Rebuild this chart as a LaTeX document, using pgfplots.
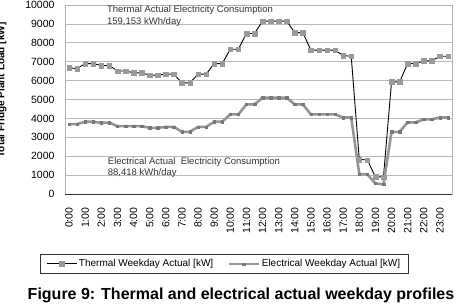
\documentclass[border=0pt]{standalone}
\usepackage{pgfplots}
\pgfplotsset{compat=1.18}
\usepackage{fontspec}
\setmainfont{Liberation Sans}
\definecolor{mk}{HTML}{9A9A9A}
\definecolor{el}{HTML}{959595}
\begin{document}
\begin{tikzpicture}
\path[use as bounding box] (-65pt,-110pt) rectangle (391pt,194pt);
\begin{axis}[
  at={(0pt,0pt)}, anchor=south west,
  scale only axis, width=387pt, height=189pt,
  xmin=-0.5, xmax=47.5, ymin=0, ymax=10000,
  ytick={0,1000,...,10000},
  xtick={0,2,...,46},
  xticklabels={0:00,1:00,2:00,3:00,4:00,5:00,6:00,7:00,8:00,9:00,10:00,11:00,12:00,13:00,14:00,15:00,16:00,17:00,18:00,19:00,20:00,21:00,22:00,23:00},
  scaled y ticks=false,
  /pgf/number format/.cd, 1000 sep={}, assume math mode=true,
  /pgfplots/.cd,
  major tick length=0pt,
  ymajorgrids, grid style={gray!55, line width=0.6pt},
  axis line style={gray!60},
  yticklabel style={font=\fontsize{10.5}{12}\selectfont, xshift=-7pt},
  xticklabel style={font=\fontsize{10.5}{12}\selectfont, yshift=-10pt, rotate=90, anchor=east},
  ylabel={\bfseries Total Fridge Plant Load [kW]},
  ylabel style={font=\fontsize{10}{12}\selectfont, at={(axis description cs:-0.163,0.55)}, anchor=center, rotate=0},
  legend columns=2,
  legend style={at={(axis description cs:0.411,-0.370)}, anchor=center, draw=black!80, line width=0.6pt,
    font=\fontsize{10}{12}\selectfont, inner xsep=6pt, inner ysep=3pt,
    /tikz/every even column/.append style={column sep=12pt}},
  legend image code/.code={\draw[#1] (0pt,0pt) -- (30pt,0pt); \draw[#1, only marks] plot coordinates {(15pt,0pt)};},
  clip=false,
]
\addplot[black, line width=0.9pt, mark=square*, mark size=2.3pt, mark options={mk, draw=mk, line width=0.3pt}] coordinates {
(0,6670)(1,6640)(2,6900)(3,6900)(4,6800)(5,6800)(6,6510)(7,6510)(8,6410)(9,6410)
(10,6290)(11,6290)(12,6340)(13,6340)(14,5880)(15,5880)(16,6340)(17,6340)(18,6900)(19,6900)
(20,7660)(21,7660)(22,8490)(23,8490)(24,9150)(25,9150)(26,9150)(27,9150)(28,8540)(29,8540)
(30,7610)(31,7610)(32,7610)(33,7610)(34,7320)(35,7290)(36,1830)(37,1800)(38,910)(39,900)
(40,5930)(41,5930)(42,6900)(43,6900)(44,7040)(45,7040)(46,7290)(47,7290)};
\addlegendentry{Thermal Weekday Actual  [kW]}
\addplot[el, line width=2.6pt, mark=square*, mark size=1.2pt, mark options={el!80!black, line width=0.3pt}] coordinates {
(0,3700)(1,3700)(2,3820)(3,3820)(4,3770)(5,3770)(6,3590)(7,3590)(8,3590)(9,3590)
(10,3500)(11,3500)(12,3550)(13,3550)(14,3290)(15,3290)(16,3550)(17,3550)(18,3820)(19,3820)
(20,4210)(21,4210)(22,4740)(23,4740)(24,5090)(25,5090)(26,5090)(27,5090)(28,4740)(29,4740)
(30,4210)(31,4210)(32,4210)(33,4210)(34,4050)(35,4050)(36,1060)(37,1040)(38,560)(39,510)
(40,3290)(41,3290)(42,3790)(43,3790)(44,3950)(45,3950)(46,4050)(47,4050)};
\addlegendentry{Electrical Weekday Actual [kW]}
\draw[black!80, line width=0.7pt] (rel axis cs:0,0) -- (rel axis cs:1,0);
\node[anchor=west, inner sep=0pt, font=\fontsize{9.5}{11}\selectfont, text=black!80] at (axis cs:4.7,9720) {Thermal Actual Electricity Consumption};
\node[anchor=west, inner sep=0pt, font=\fontsize{9.5}{11}\selectfont, text=black!80] at (axis cs:4.7,9086) {159,153 kWh/day};
\node[anchor=west, inner sep=0pt, font=\fontsize{9.5}{11}\selectfont, text=black!80] at (axis cs:4.8,1690) {Electrical Actual\ \ Electricity Consumption};
\node[anchor=west, inner sep=0pt, font=\fontsize{9.5}{11}\selectfont, text=black!80] at (axis cs:4.8,1110) {88,418 kWh/day};
\end{axis}
\node[font=\fontsize{16}{18}\selectfont\bfseries] at (176pt,-101pt) {Figure 9: Thermal and electrical actual weekday profiles};
\end{tikzpicture}
\end{document}
